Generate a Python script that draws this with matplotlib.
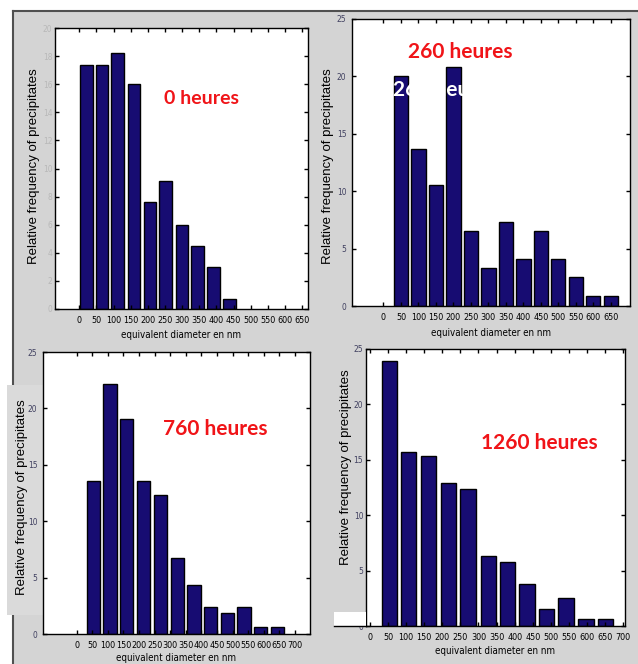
import matplotlib.pyplot as plt
from matplotlib import font_manager
from matplotlib.patches import Rectangle
from matplotlib.lines import Line2D

W, H = 638, 664

# bin centres (nm) and relative frequencies
centers_0h = [20, 66, 112, 159, 206, 251, 299, 345, 392, 439]
freq_0h = [17.4, 17.4, 18.2, 16.0, 7.6, 9.1, 6.0, 4.5, 3.0, 0.7]

centers_260h = [50, 100, 150, 200, 250, 300, 350, 400, 450, 500, 550, 600, 650]
freq_260h = [20.0, 13.7, 10.5, 20.8, 6.5, 3.3, 7.3, 4.1, 6.5, 4.1, 2.5, 0.9, 0.9]

centers_760h = [53, 107, 160, 215, 268, 323, 376, 429, 483, 536, 590, 643]
freq_760h = [13.6, 22.2, 19.1, 13.6, 12.3, 6.7, 4.3, 2.4, 1.9, 2.4, 0.6, 0.6]

centers_1260h = [53, 107, 162, 216, 271, 327, 380, 434, 487, 542, 597, 651]
freq_1260h = [23.9, 15.7, 15.3, 12.9, 12.4, 6.3, 5.8, 3.8, 1.5, 2.5, 0.6, 0.6]

titles = ['0 heures', '260 heures', '760 heures', '1260 heures']
xlabel = 'equivalent diameter en nm'
ylabel = 'Relative frequency of precipitates'

BAR = '#170c72'
RED = '#f01418'
BG = '#d4d4d4'

# narrow font for the MATLAB-like tick labels
narrow = font_manager.FontProperties(family='DejaVu Sans', stretch='condensed')
narrow_file = font_manager.findfont(narrow)
if 'Condensed' not in narrow_file:
    narrow_file = None


def small(size):
    if narrow_file:
        return font_manager.FontProperties(fname=narrow_file, size=size)
    return font_manager.FontProperties(family='DejaVu Sans', size=size - 0.8)


def fx(x):
    return x / W


def fy(y):
    return 1 - y / H


def rect(l, t, r, b):
    return [l / W, 1 - b / H, (r - l) / W, (b - t) / H]


fig = plt.figure(figsize=(W / 100, H / 100), dpi=100)
fig.patch.set_facecolor('white')

# grey screenshot backgrounds and frame lines
fig.add_artist(Rectangle((fx(13), 0), 1 - fx(13), fy(11), transform=fig.transFigure,
                         facecolor=BG, edgecolor='none', zorder=-2))
fig.add_artist(Line2D([fx(13), 1], [fy(11), fy(11)], transform=fig.transFigure,
                      color='#505050', lw=1.5, zorder=-1))
fig.add_artist(Line2D([fx(13), fx(13)], [fy(11), fy(385)], transform=fig.transFigure,
                      color='#505050', lw=1.5, zorder=-1))
fig.add_artist(Line2D([fx(13), fx(13)], [fy(615), 0], transform=fig.transFigure,
                      color='#505050', lw=1.5, zorder=-1))
# lighter grey box behind the 760 h y label
fig.add_artist(Rectangle((fx(7), fy(615)), fx(43) - fx(7), fy(385) - fy(615),
                         transform=fig.transFigure, facecolor='#dadada',
                         edgecolor='none', zorder=-1))


def panel(box, centers, freq, width, xlim, ymax, ystep, xmax_tick, ycolor, lpad, ypad=4):
    ax = fig.add_axes(rect(*box))
    ax.set_facecolor('white')
    ax.bar(centers, freq, width=width, color=BAR, edgecolor='black', linewidth=1.0)
    ax.set_xlim(*xlim)
    ax.set_ylim(0, ymax)
    xt = list(range(0, xmax_tick + 1, 50))
    ax.set_xticks(xt)
    ax.set_xticklabels([str(v) for v in xt], fontproperties=small(6.5))
    yt = list(range(0, ymax + 1, ystep))
    ax.set_yticks(yt)
    ax.set_yticklabels([str(v) for v in yt], fontproperties=small(6), color=ycolor)
    ax.tick_params(direction='in', top=True, right=True, length=3, width=1)
    ax.tick_params(axis='x', pad=5)
    ax.tick_params(axis='y', pad=ypad)
    ax.set_xlabel(xlabel, fontproperties=small(7), labelpad=lpad)
    for s in ax.spines.values():
        s.set_linewidth(1.0)
    return ax


ax1 = panel((55, 28, 308, 309), centers_0h, freq_0h, 37, (-71, 667), 20, 2, 650, '#b8b8b8', 4, 2)
ax2 = panel((352, 19, 630, 306), centers_260h, freq_260h, 41, (-90, 705), 25, 5, 650, '#404060', 4)
ax3 = panel((43, 352, 310, 634), centers_760h, freq_760h, 43, (-108, 748), 25, 5, 700, '#404060', 2)
ax4 = panel((366, 349, 625, 626), centers_1260h, freq_1260h, 42, (-11, 705), 25, 5, 700, '#404060', 3, 2)

# ghost of the pasted title behind the 260 h bars
ax2.text(fx(445), fy(90), titles[1], transform=fig.transFigure, color='white',
         family='Lato', weight='bold', fontsize=15, ha='center', va='center', zorder=3)

# stub of the 1260 h x axis left of the y axis
fig.add_artist(Rectangle((fx(334), fy(626)), fx(366) - fx(334), fy(612) - fy(626),
                         transform=fig.transFigure, facecolor='white',
                         edgecolor='none', zorder=2))
fig.add_artist(Line2D([fx(334), fx(366)], [fy(626), fy(626)], transform=fig.transFigure,
                      color='black', lw=1.0, zorder=2))

# y labels
for x, y in [(34, 166), (328, 166), (22, 497), (346, 467)]:
    fig.text(fx(x), fy(y), ylabel, rotation=90, ha='center', va='center',
             family=['Liberation Sans', 'DejaVu Sans'], fontsize=9.5, zorder=3)

# red titles
for (x, y, size), t in zip([(202, 98, 14), (460, 52, 15), (215, 429, 15), (539, 443, 15)], titles):
    fig.text(fx(x), fy(y), t, color=RED, family='Lato', weight='bold',
             fontsize=size, ha='center', va='center', zorder=3)

fig.savefig('out.png', dpi=100, facecolor=fig.get_facecolor())
